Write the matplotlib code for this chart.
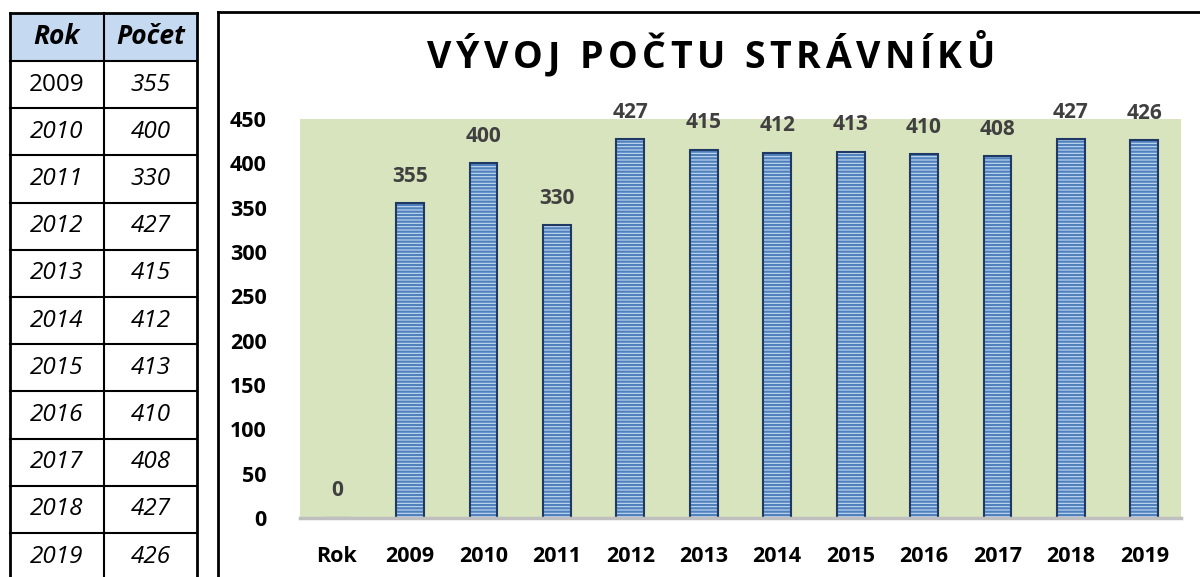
import matplotlib
matplotlib.use("Agg")
import matplotlib.pyplot as plt
from matplotlib.patches import Rectangle

# data
categories = ["Rok", "2009", "2010", "2011", "2012", "2013", "2014",
              "2015", "2016", "2017", "2018", "2019"]
counts = [0, 355, 400, 330, 427, 415, 412, 413, 410, 408, 427, 426]
table_years = ["2009", "2010", "2011", "2012", "2013", "2014",
               "2015", "2016", "2017", "2018", "2019"]
table_counts = ["355", "400", "330", "427", "415", "412",
                "413", "410", "408", "427", "426"]
title = "VÝVOJ POČTU STRÁVNÍKŮ"

plt.rcParams["font.family"] = ["Open Sans", "DejaVu Sans"]
plt.rcParams["hatch.linewidth"] = 1.6

W, H = 1200, 577
fig = plt.figure(figsize=(W / 100, H / 100), dpi=100)

# overlay in pixel coords for table and chart frame
bg = fig.add_axes([0, 0, 1, 1])
bg.set_xlim(0, W)
bg.set_ylim(H, 0)
bg.axis("off")

# table
tx0, tx1, tdiv = 10, 197, 104
ty0, hdr_h, row_h = 13, 48, 47.2
bg.add_patch(Rectangle((tx0, ty0), tx1 - tx0, hdr_h, facecolor="#C5D9F1",
                       edgecolor="none"))
n_rows = len(table_years)
bottom = ty0 + hdr_h + row_h * n_rows
bg.plot([tx0, tx0], [ty0, bottom], color="black", lw=2)
bg.plot([tx1, tx1], [ty0, bottom], color="black", lw=2)
bg.plot([tdiv, tdiv], [ty0, bottom], color="black", lw=1.5)
bg.plot([tx0, tx1], [ty0, ty0], color="black", lw=2)
bg.plot([tx0, tx1], [ty0 + hdr_h, ty0 + hdr_h], color="black", lw=1.5)
for i in range(1, n_rows + 1):
    y = ty0 + hdr_h + row_h * i
    bg.plot([tx0, tx1], [y, y], color="black", lw=1.5)

cx_year = (tx0 + tdiv) / 2
cx_cnt = (tdiv + tx1) / 2
bg.text(cx_year, ty0 + hdr_h / 2, "Rok", ha="center", va="center",
        fontsize=19, fontweight="bold", fontstyle="italic")
bg.text(cx_cnt, ty0 + hdr_h / 2, "Počet", ha="center", va="center",
        fontsize=19, fontweight="bold", fontstyle="italic")
for i, (yr, c) in enumerate(zip(table_years, table_counts)):
    yc = ty0 + hdr_h + row_h * (i + 0.5)
    bg.text(cx_year, yc, yr, ha="center", va="center", fontsize=17.5,
            fontstyle="normal" if i == 0 else "italic")
    bg.text(cx_cnt, yc, c, ha="center", va="center", fontsize=17.5,
            fontstyle="italic")

# chart frame
bg.plot([218, 218], [12, H], color="black", lw=2)
bg.plot([218, W], [12, 12], color="black", lw=2)

# title with letter spacing, drawn char by char
title_x0, title_x1, title_y = 427, 995, 58
title_fs = 27
r = fig.canvas.get_renderer()
widths = []
for ch in title:
    t = bg.text(0, 0, ch, fontsize=title_fs, fontweight="bold")
    widths.append(t.get_window_extent(renderer=r).width)
    t.remove()
space_w = 10
n_spaces = title.count(" ")
gap = (title_x1 - title_x0 - sum(w for ch, w in zip(title, widths) if ch != " ")
       - n_spaces * space_w) / (len(title) - 1)
x = title_x0
for ch, w in zip(title, widths):
    if ch == " ":
        x += space_w + gap
        continue
    bg.text(x, title_y, ch, fontsize=title_fs, fontweight="bold", ha="left",
            va="center", color="black")
    x += w + gap

# bar chart
ax = fig.add_axes([300 / W, (H - 518) / H, (1181 - 300) / W, (518 - 119) / H])
ax.set_facecolor("#D7E4BD")
xs = range(len(categories))
ax.bar(xs, counts, width=0.38, color="#C6D9F1", edgecolor="#4F81BD",
       hatch="-----", linewidth=0)
ax.bar(xs, counts, width=0.38, fill=False, edgecolor="#1F3864", linewidth=1.5)
for xi, v in zip(xs, counts):
    ax.annotate(str(v), (xi, v), xytext=(0, 12), textcoords="offset points",
                ha="center", va="bottom", fontsize=15, fontweight="bold",
                color="#404040")
ax.set_xlim(-0.5, len(categories) - 0.5)
ax.set_ylim(0, 450)
ax.set_yticks(range(0, 451, 50))
ax.set_xticks(list(xs))
ax.set_xticklabels(categories)
ax.tick_params(length=0, labelsize=15.5)
ax.tick_params(axis="y", pad=24)
ax.tick_params(axis="x", pad=20)
for lab in ax.get_xticklabels() + ax.get_yticklabels():
    lab.set_fontweight("bold")
for s in ["top", "left", "right"]:
    ax.spines[s].set_visible(False)
ax.spines["bottom"].set_color("#BFBFBF")
ax.spines["bottom"].set_linewidth(2.5)

fig.savefig("out.png", dpi=100)
